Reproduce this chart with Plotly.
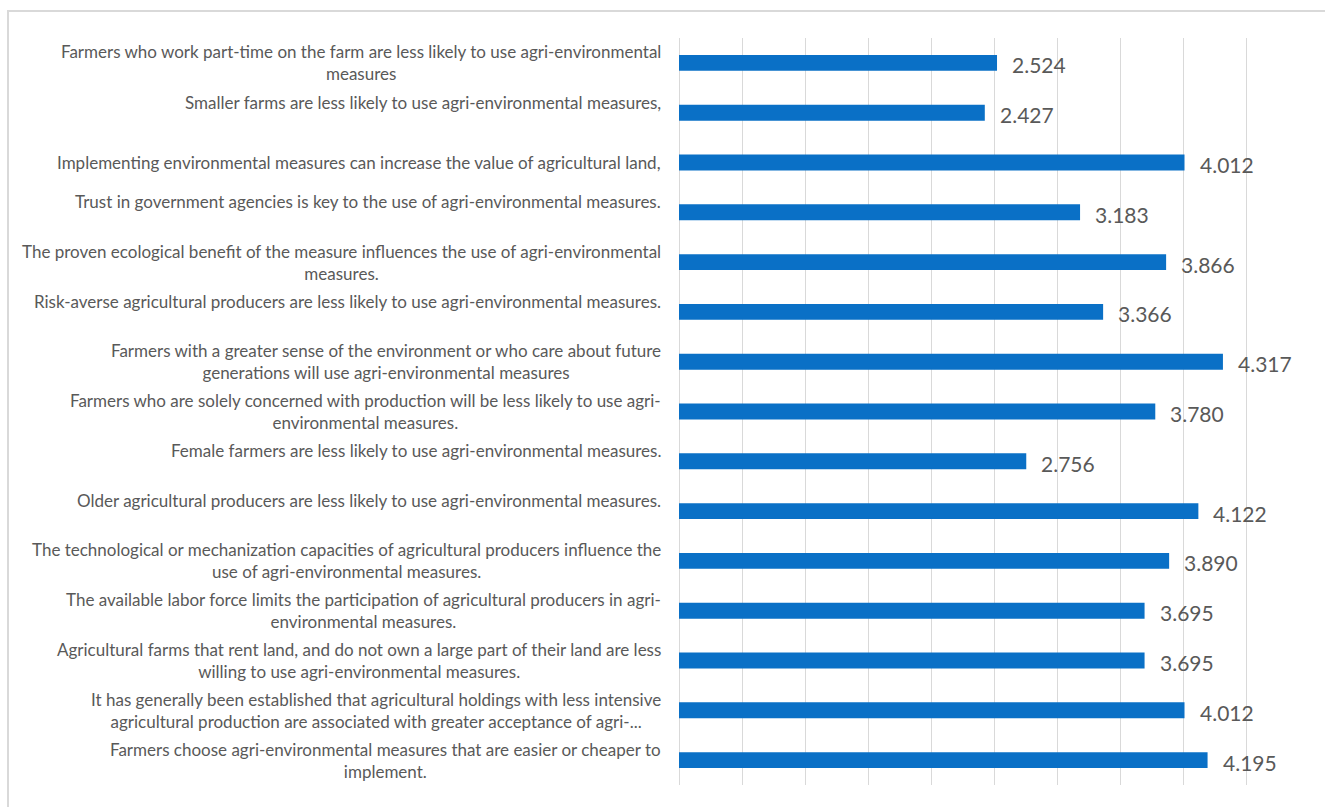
import plotly.graph_objects as go

# Category labels (top to bottom); "\n" marks line breaks as in the original labels
labels = [
    "Farmers who work part-time on the farm are less likely to use agri-environmental\nmeasures",
    "Smaller farms are less likely to use agri-environmental measures,\n",
    "\nImplementing environmental measures can increase the value of agricultural land,\n",
    "Trust in government agencies is key to the use of agri-environmental measures.\n",
    "The proven ecological benefit of the measure influences the use of agri-environmental\nmeasures.",
    "Risk-averse agricultural producers are less likely to use agri-environmental measures.\n",
    "Farmers with a greater sense of the environment or who care about future\ngenerations will use agri-environmental measures",
    "Farmers who are solely concerned with production will be less likely to use agri-\nenvironmental measures.",
    "Female farmers are less likely to use agri-environmental measures.\n",
    "Older agricultural producers are less likely to use agri-environmental measures.\n",
    "The technological or mechanization capacities of agricultural producers influence the\nuse of agri-environmental measures.",
    "The available labor force limits the participation of agricultural producers in agri-\nenvironmental measures.",
    "Agricultural farms that rent land, and do not own a large part of their land are less\nwilling to use agri-environmental measures.",
    "It has generally been established that agricultural holdings with less intensive\nagricultural production are associated with greater acceptance of agri-...",
    "Farmers choose agri-environmental measures that are easier or cheaper to\nimplement.",
]

values = [2.524, 2.427, 4.012, 3.183, 3.866, 3.366, 4.317, 3.780,
          2.756, 4.122, 3.890, 3.695, 3.695, 4.012, 4.195]

cat_ids = [f"c{i}" for i in range(len(labels))]

BAR_COLOR = "#0A70C6"
TEXT_COLOR = "#595959"
FONT = "Lato"
LABEL_SIZE = 17
LINE_H = 21

fig = go.Figure()
fig.add_trace(go.Bar(
    x=values, y=cat_ids, orientation="h",
    marker=dict(color=BAR_COLOR, line=dict(width=0)),
    hoverinfo="x",
))

annotations = []
for cid, lab, v in zip(cat_ids, labels, values):
    lines = lab.split("\n")
    n = len(lines)
    idx = [i for i, s in enumerate(lines) if s.strip()]
    offset = sum(idx) / len(idx) - (n - 1) / 2
    text = "<br>".join(lines[i] for i in idx)
    annotations.append(dict(
        x=0, xref="paper", y=cid, yref="y",
        xanchor="right", yanchor="middle", align="center",
        xshift=-16, yshift=-offset * LINE_H,
        text=text, showarrow=False,
        font=dict(family=FONT, size=LABEL_SIZE, color=TEXT_COLOR),
    ))
    annotations.append(dict(
        x=v, xref="x", y=cid, yref="y",
        xanchor="left", yanchor="middle",
        xshift=13, yshift=-2,
        text=f"{v:.3f}", showarrow=False,
        font=dict(family=FONT, size=21, color=TEXT_COLOR),
    ))

fig.update_layout(
    width=1325, height=807,
    margin=dict(l=679, r=16, t=38, b=22),
    paper_bgcolor="white", plot_bgcolor="white",
    bargap=0.68,
    showlegend=False,
    annotations=annotations,
    xaxis=dict(range=[0, 5], dtick=0.5, tick0=0, showgrid=True,
               gridcolor="#D9D9D9", gridwidth=1,
               zeroline=True, zerolinecolor="#D9D9D9", zerolinewidth=1,
               showticklabels=False, showline=False, ticks=""),
    yaxis=dict(categoryorder="array", categoryarray=cat_ids,
               autorange="reversed", showticklabels=False,
               showgrid=False, zeroline=False, showline=False, ticks=""),
    shapes=[dict(type="rect", xref="paper", yref="paper",
                 x0=(8 - 679) / 630, x1=1.2, y0=-0.2, y1=(785 - 11) / 747,
                 line=dict(color="#D9D9D9", width=2), fillcolor="rgba(0,0,0,0)",
                 layer="below")],
)

fig.write_html("out.html")
